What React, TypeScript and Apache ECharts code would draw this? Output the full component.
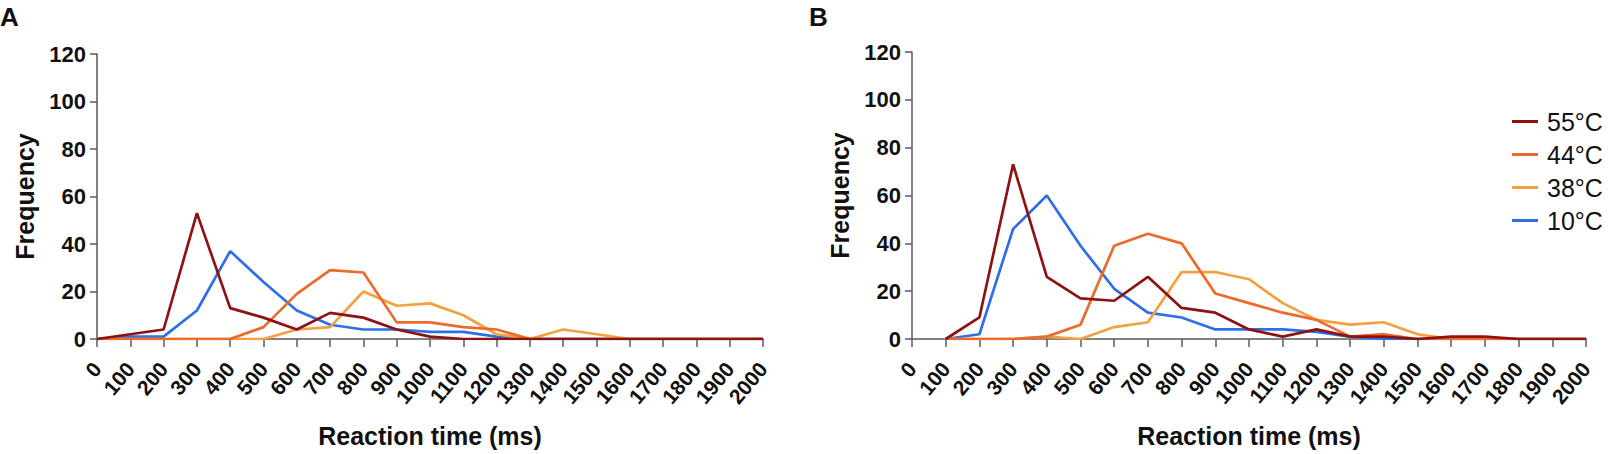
import React, { useEffect, useRef } from "react";
import * as echarts from "echarts";

const FONT = "'Liberation Sans', Arial, sans-serif";

// tick labels / categories
const timesA = [0, 100, 200, 300, 400, 500, 600, 700, 800, 900, 1000, 1100, 1200, 1300, 1400, 1500, 1600, 1700, 1800, 1900, 2000];
const timesB = [100, 200, 300, 400, 500, 600, 700, 800, 900, 1000, 1100, 1200, 1300, 1400, 1500, 1600, 1700, 1800, 1900, 2000];

// Panel A
const a55 = [0, 2, 4, 53, 13, 9, 4, 11, 9, 4, 1, 0, 0, 0, 0, 0, 0, 0, 0, 0, 0];
const a44 = [0, 0, 0, 0, 0, 5, 19, 29, 28, 7, 7, 5, 4, 0, 0, 0, 0, 0, 0, 0, 0];
const a38 = [0, 0, 0, 0, 0, 0, 4, 5, 20, 14, 15, 10, 2, 0, 4, 2, 0, 0, 0, 0, 0];
const a10 = [0, 1, 1, 12, 37, 24, 12, 6, 4, 4, 3, 3, 1, 0, 0, 0, 0, 0, 0, 0, 0];

// Panel B
const b55 = [0, 9, 73, 26, 17, 16, 26, 13, 11, 4, 1, 4, 1, 1, 0, 1, 1, 0, 0, 0];
const b44 = [0, 0, 0, 1, 6, 39, 44, 40, 19, 15, 11, 8, 1, 2, 0, 0, 0, 0, 0, 0];
const b38 = [0, 0, 0, 1, 0, 5, 7, 28, 28, 25, 15, 8, 6, 7, 2, 0, 0, 0, 0, 0];
const b10 = [0, 2, 46, 60, 39, 21, 11, 9, 4, 4, 4, 3, 1, 0, 0, 0, 0, 0, 0, 0];

const seriesNames = ["55°C", "44°C", "38°C", "10°C"];
const colors: Record<string, string> = {
  "55°C": "#8E1212",
  "44°C": "#EC6A2C",
  "38°C": "#F5A040",
  "10°C": "#2F6FE6",
};

const pairs = (xs: number[], ys: number[]) => xs.map((x, i) => [x, ys[i]]);

const axisColor = "#5a5a5a";

function xAxis(gridIndex: number) {
  return {
    type: "value",
    gridIndex,
    min: 0,
    max: 2000,
    interval: 100,
    name: "Reaction time (ms)",
    nameLocation: "middle",
    nameGap: 84,
    nameTextStyle: { fontFamily: FONT, fontWeight: "bold", fontSize: 25, color: "#111" },
    axisLine: { show: true, onZero: false, lineStyle: { color: axisColor, width: 1.5 } },
    axisTick: { show: true, length: 8, lineStyle: { color: axisColor, width: 1.5 } },
    axisLabel: {
      rotate: 50,
      margin: 26,
      fontFamily: FONT,
      fontWeight: "bold",
      fontSize: 21,
      color: "#111",
      formatter: (v: number) => String(v),
    },
    splitLine: { show: false },
  };
}

function yAxis(gridIndex: number) {
  return {
    type: "value",
    gridIndex,
    min: 0,
    max: 120,
    interval: 20,
    name: "Frequency",
    nameLocation: "middle",
    nameGap: 60,
    nameTextStyle: { fontFamily: FONT, fontWeight: "bold", fontSize: 25, color: "#111" },
    axisLine: { show: true, lineStyle: { color: axisColor, width: 1.5 } },
    axisTick: { show: true, length: 7, lineStyle: { color: axisColor, width: 1.5 } },
    axisLabel: {
      margin: 11,
      fontFamily: FONT,
      fontWeight: "bold",
      fontSize: 22,
      color: "#111",
      formatter: (v: number) => String(v),
    },
    splitLine: { show: false },
  };
}

function line(name: string, data: number[][], idx: number) {
  return {
    type: "line",
    name,
    xAxisIndex: idx,
    yAxisIndex: idx,
    data,
    showSymbol: false,
    symbol: "none",
    lineStyle: { width: 2.7, color: colors[name] },
    itemStyle: { color: colors[name] },
    z: 3,
  };
}

export default function App() {
  const ref = useRef<HTMLDivElement>(null);
  useEffect(() => {
    if (!ref.current) return;
    const chart = echarts.init(ref.current, undefined, { renderer: "svg" });
    const aData: Record<string, number[]> = { "55°C": a55, "44°C": a44, "38°C": a38, "10°C": a10 };
    const bData: Record<string, number[]> = { "55°C": b55, "44°C": b44, "38°C": b38, "10°C": b10 };
    const drawOrder = ["10°C", "38°C", "44°C", "55°C"];
    const series: any[] = [];
    drawOrder.forEach((n) => series.push(line(n, pairs(timesA, aData[n]), 0)));
    drawOrder.forEach((n) => series.push(line(n, pairs(timesB, bData[n]), 1)));
    chart.setOption({
      animation: false,
      backgroundColor: "#ffffff",
      textStyle: { fontFamily: FONT },
      grid: [
        { left: 97, top: 54, width: 666, height: 285 },
        { left: 912, top: 52, width: 674, height: 287 },
      ],
      xAxis: [xAxis(0), xAxis(1)],
      yAxis: [yAxis(0), yAxis(1)],
      legend: {
        data: seriesNames,
        orient: "vertical",
        left: 1507,
        top: 104,
        icon: "rect",
        itemWidth: 26,
        itemHeight: 3,
        itemGap: 8,
        textStyle: { fontFamily: FONT, fontSize: 25, color: "#111", padding: [0, 0, 0, 4] },
      },
      graphic: [
        { type: "text", left: 0, top: 4, style: { text: "A", font: `bold 26px ${FONT}`, fill: "#111" } },
        { type: "text", left: 809, top: 4, style: { text: "B", font: `bold 26px ${FONT}`, fill: "#111" } },
      ],
      series,
    });
    return () => chart.dispose();
  }, []);
  return (
    <div
      ref={ref}
      style={{ position: "fixed", left: 0, top: 0, width: 1608, height: 454, background: "#fff" }}
    />
  );
}
